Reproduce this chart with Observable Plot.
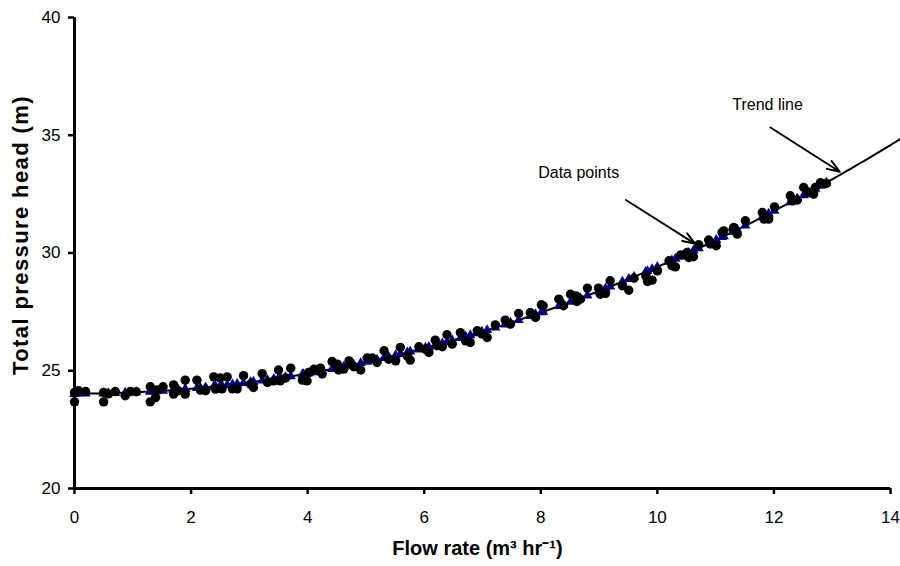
<!DOCTYPE html>
<html>
<head>
<meta charset="utf-8">
<script src="https://cdn.jsdelivr.net/npm/d3@7"></script>
<script src="https://cdn.jsdelivr.net/npm/@observablehq/plot@0.6"></script>
<style>
  html, body { margin: 0; padding: 0; background: #fff; }
  #chart svg { display: block; }
  .ylab text { letter-spacing: 1.4px; }
</style>
</head>
<body>
<div id="chart"></div>
<script>
// Measured flow rate (m³/h) and total pressure head (m)
const flowRate = [
  0.00, 0.00, 0.07, 0.19, 0.50, 0.50, 0.58, 0.70, 0.87, 0.96,
  1.06, 1.30, 1.30, 1.39, 1.42, 1.52, 1.70, 1.70, 1.78, 1.90,
  1.90, 2.10, 2.16, 2.25, 2.39, 2.42, 2.50, 2.62, 2.53, 2.71,
  2.79, 2.90, 3.02, 3.07, 3.22, 3.31, 3.42, 3.50, 3.53, 3.71,
  3.62, 3.91, 4.02, 3.93, 3.99, 4.11, 4.19, 4.25, 4.22, 4.42,
  4.51, 4.53, 4.62, 4.71, 4.79, 4.91, 5.02, 5.11, 5.19, 5.31,
  5.39, 5.51, 5.59, 5.71, 5.76, 5.91, 6.02, 6.08, 6.19, 6.22,
  6.31, 6.39, 6.48, 6.62, 6.71, 6.79, 6.91, 6.99, 7.08, 7.22,
  7.39, 7.48, 7.62, 7.82, 7.91, 8.01, 8.04, 8.31, 8.39, 8.51,
  8.60, 8.68, 8.62, 8.80, 8.99, 9.02, 9.11, 9.19, 9.40, 9.51,
  9.60, 9.80, 9.83, 9.91, 10.00, 10.20, 10.25, 10.31, 10.40, 10.51,
  10.54, 10.62, 10.71, 10.88, 10.91, 11.01, 11.11, 11.30, 11.37, 11.14,
  11.31, 11.51, 11.80, 11.83, 11.91, 12.01, 12.28, 12.31, 12.40, 12.51,
  12.60, 12.68, 12.71, 12.80, 12.90
];
const pressureHead = [
  24.08, 23.68, 24.15, 24.12, 24.08, 23.68, 24.02, 24.12, 23.94, 24.12,
  24.11, 24.32, 23.68, 23.86, 24.19, 24.32, 24.40, 24.01, 24.15, 24.60,
  24.01, 24.60, 24.18, 24.15, 24.74, 24.22, 24.69, 24.74, 24.23, 24.23,
  24.23, 24.79, 24.43, 24.29, 24.88, 24.50, 24.57, 25.03, 24.57, 25.11,
  24.69, 24.60, 24.93, 24.71, 24.57, 25.07, 25.00, 24.86, 25.11, 25.39,
  25.28, 25.03, 25.07, 25.42, 25.17, 25.03, 25.54, 25.54, 25.35, 25.85,
  25.49, 25.42, 25.99, 25.63, 25.45, 26.02, 25.92, 25.78, 26.30, 26.06,
  26.02, 26.53, 26.13, 26.62, 26.27, 26.20, 26.70, 26.56, 26.41, 26.95,
  27.15, 26.98, 27.43, 27.47, 27.26, 27.80, 27.76, 28.04, 27.76, 28.25,
  28.18, 28.04, 27.94, 28.51, 28.51, 28.25, 28.28, 28.82, 28.61, 28.42,
  28.93, 29.03, 28.79, 28.85, 29.24, 29.67, 29.46, 29.41, 29.92, 30.02,
  29.81, 29.84, 30.35, 30.55, 30.38, 30.31, 30.87, 31.01, 30.80, 30.94,
  31.08, 31.37, 31.72, 31.44, 31.44, 31.96, 32.43, 32.22, 32.25, 32.78,
  32.57, 32.50, 32.78, 32.99, 32.95
];

const xTicks = [0, 2, 4, 6, 8, 10, 12, 14];
const yTicks = [20, 25, 30, 35, 40];

const xLabel = "Flow rate (m³ hr⁻¹)";
const yLabel = "Total pressure head (m)";

// Second-order least-squares fit of head against flow (the trend line)
function quadraticFit(xs, ys) {
  const n = xs.length;
  let s = [0, 0, 0, 0, 0], t = [0, 0, 0];
  for (let i = 0; i < n; i++) {
    const x = xs[i], y = ys[i];
    let p = 1;
    for (let k = 0; k < 5; k++) { s[k] += p; if (k < 3) t[k] += p * y; p *= x; }
  }
  const A = [[s[0], s[1], s[2], t[0]], [s[1], s[2], s[3], t[1]], [s[2], s[3], s[4], t[2]]];
  for (let c = 0; c < 3; c++) {
    for (let r = c + 1; r < 3; r++) {
      const f = A[r][c] / A[c][c];
      for (let k = c; k < 4; k++) A[r][k] -= f * A[c][k];
    }
  }
  const coef = [0, 0, 0];
  for (let r = 2; r >= 0; r--) {
    let v = A[r][3];
    for (let k = r + 1; k < 3; k++) v -= A[r][k] * coef[k];
    coef[r] = v / A[r][r];
  }
  return x => coef[0] + coef[1] * x + coef[2] * x * x;
}

const fit = quadraticFit(flowRate, pressureHead);
const points = flowRate.map((x, i) => ({x, y: pressureHead[i]}));
const modelled = flowRate.map(x => ({x, y: fit(x)}));
const trend = d3.range(0, 14.2001, 0.05).map(x => ({x, y: fit(x)}));

// Callout labels with their leader arrows
const callouts = [
  {text: "Data points", tx: 8.65, ty: 33.41, x1: 9.46, y1: 32.25, x2: 10.65, y2: 30.39},
  {text: "Trend line", tx: 11.89, ty: 36.29, x1: 11.94, y1: 35.33, x2: 13.13, y2: 33.45}
];

const font = "'Liberation Sans', Arial, Helvetica, sans-serif";

const chart = Plot.plot({
  width: 900,
  height: 566,
  marginLeft: 74,
  marginRight: 10,
  marginTop: 17,
  marginBottom: 78,
  style: {fontFamily: font, background: "#fff", color: "#000", overflow: "visible"},
  x: {domain: [0, 14], ticks: xTicks},
  y: {domain: [20, 40], ticks: yTicks},
  marks: [
    Plot.axisX({ticks: xTicks, tickSize: 6, tickPadding: 16, strokeWidth: 2.5, fontSize: 17, label: null, tickFormat: d => d}),
    Plot.axisY({ticks: yTicks, tickSize: 6, tickPadding: 8, strokeWidth: 2.5, fontSize: 17, label: null, tickFormat: d => d}),
    Plot.ruleX([0], {y1: 20, y2: 40, stroke: "#000", strokeWidth: 3}),
    Plot.ruleY([20], {x1: 0, x2: 14, stroke: "#000", strokeWidth: 3}),
    Plot.line(trend, {x: "x", y: "y", stroke: "#000", strokeWidth: 2}),
    Plot.dot(modelled, {x: "x", y: "y", symbol: "triangle", r: 3.8, fill: "#000080", stroke: "none"}),
    Plot.dot(points, {x: "x", y: "y", r: 4.7, fill: "#000", stroke: "none"}),
    Plot.arrow(callouts, {x1: "x1", y1: "y1", x2: "x2", y2: "y2", stroke: "#000", strokeWidth: 2, headLength: 10, headAngle: 40}),
    Plot.text(callouts, {x: "tx", y: "ty", text: "text", fontSize: 16, fill: "#000"}),
    Plot.text([xLabel], {frameAnchor: "bottom", dx: -5, dy: 66, fontSize: 20, fontWeight: "bold", fill: "#000"}),
    Plot.text([yLabel], {frameAnchor: "left", textAnchor: "middle", dx: -54, dy: -18, rotate: -90, fontSize: 22, fontWeight: "bold", fill: "#000", className: "ylab"})
  ]
});

document.getElementById("chart").appendChild(chart);
</script>
</body>
</html>
